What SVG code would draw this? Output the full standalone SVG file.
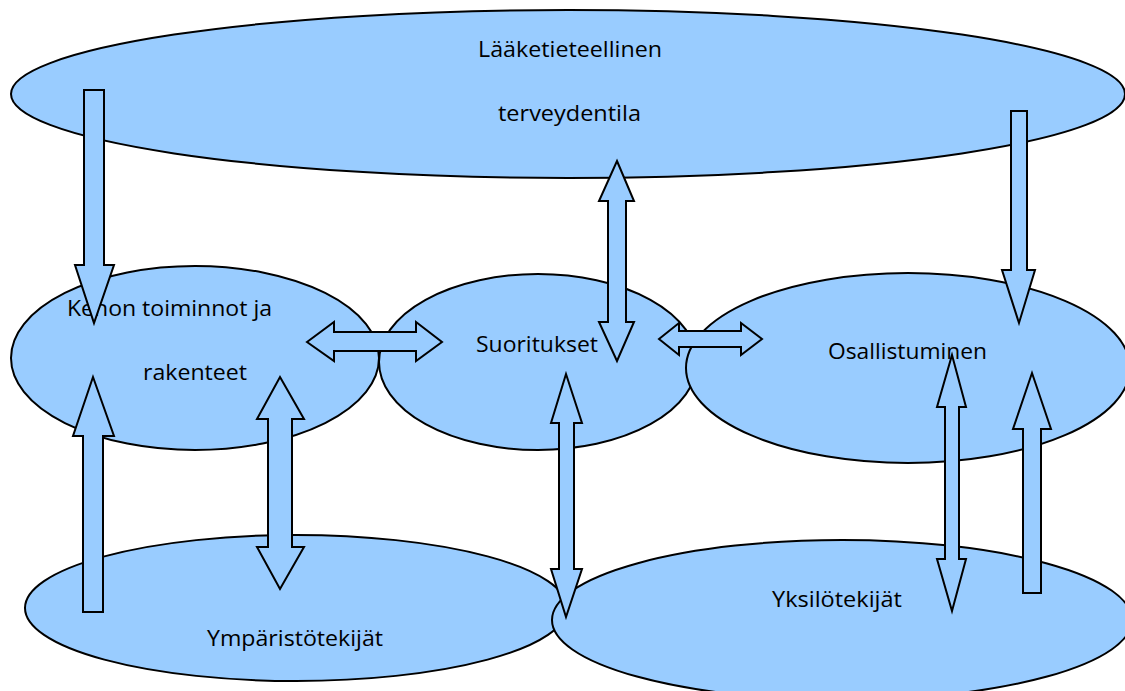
<svg xmlns="http://www.w3.org/2000/svg" width="1125" height="691" viewBox="0 0 1125 691">
<style>
.node{fill:#99CCFF;stroke:#000;stroke-width:2}
.lbl{font-family:"Open Sans","Noto Sans","Liberation Sans",sans-serif;font-size:22.5px;fill:#000}
.arr{fill:#99CCFF;stroke:#000;stroke-width:2;stroke-linejoin:miter}
</style>
<rect width="1125" height="691" fill="#fff"/>
<g id="node-laaketieteellinen">
<ellipse class="node" cx="568" cy="94" rx="557" ry="84"/>
<text class="lbl" x="478" y="57" textLength="184" lengthAdjust="spacingAndGlyphs">Lääketieteellinen</text>
<text class="lbl" x="498" y="121" textLength="143" lengthAdjust="spacingAndGlyphs">terveydentila</text>
</g>
<g id="node-kehon">
<ellipse class="node" cx="195" cy="358" rx="184" ry="92"/>
<text class="lbl" x="67" y="316" textLength="205" lengthAdjust="spacingAndGlyphs">Kehon toiminnot ja</text>
<text class="lbl" x="143" y="380" textLength="104" lengthAdjust="spacingAndGlyphs">rakenteet</text>
</g>
<g id="node-suoritukset">
<ellipse class="node" cx="538" cy="362" rx="159" ry="88"/>
<text class="lbl" x="476" y="352" textLength="122" lengthAdjust="spacingAndGlyphs">Suoritukset</text>
</g>
<g id="node-osallistuminen">
<ellipse class="node" cx="908" cy="368" rx="222" ry="95"/>
<text class="lbl" x="828" y="359" textLength="159" lengthAdjust="spacingAndGlyphs">Osallistuminen</text>
</g>
<g id="node-ymparisto">
<ellipse class="node" cx="296" cy="608" rx="271" ry="73"/>
<text class="lbl" x="207" y="646" textLength="176" lengthAdjust="spacingAndGlyphs">Ympäristötekijät</text>
</g>
<g id="node-yksilo">
<ellipse class="node" cx="842" cy="620" rx="290" ry="80"/>
<text class="lbl" x="772" y="607" textLength="130" lengthAdjust="spacingAndGlyphs">Yksilötekijät</text>
</g>
<g id="connectors">
<polygon class="arr" points="84,90 104,90 104,265 114,265 94,323 75,265 84,265"/>
<polygon class="arr" points="93,377 114,436 103,436 103,612 83,612 83,436 73,436"/>
<polygon class="arr" points="280,377 304,419 292,419 292,547 304,547 280,589 257,547 268,547 268,419 257,419"/>
<polygon class="arr" points="307,342 334,322 334,332 416,332 416,322 442,342 416,361 416,351 334,351 334,361"/>
<polygon class="arr" points="617,161 634,201 626,201 626,322 634,322 617,361 599,322 608,322 608,201 599,201"/>
<polygon class="arr" points="659,339 679,323 679,331 741,331 741,323 762,339 741,355 741,347 679,347 679,355"/>
<polygon class="arr" points="1011,111 1027,111 1027,270 1035,270 1019,323 1002,270 1011,270"/>
<polygon class="arr" points="952,355 966,407 959,407 959,559 966,559 952,611 937,559 945,559 945,407 937,407"/>
<polygon class="arr" points="1032,373 1051,429 1041,429 1041,593 1023,593 1023,429 1013,429"/>
<polygon class="arr" points="566,374 582,423 574,423 574,569 582,569 566,617 551,569 559,569 559,423 551,423"/>
</g>
</svg>
